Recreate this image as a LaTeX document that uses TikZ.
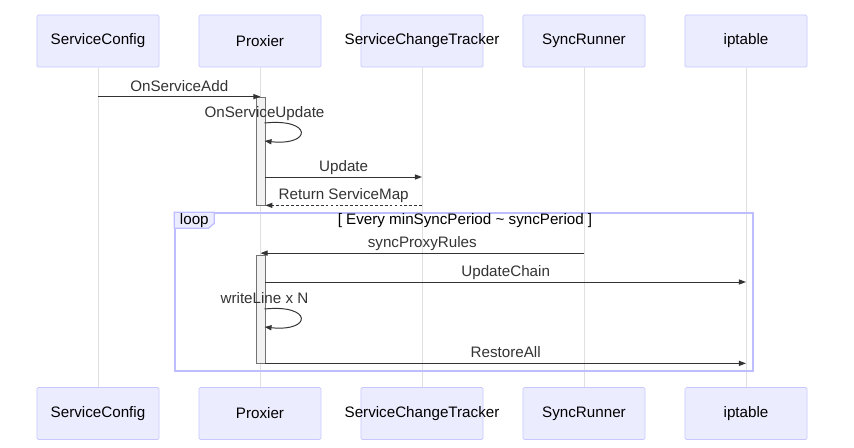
\documentclass[tikz,border=0pt]{standalone}
\usepackage{fontspec}
\setmainfont{Liberation Sans}
\usetikzlibrary{arrows.meta,positioning,calc}
\definecolor{actfill}{HTML}{ECECFF}
\definecolor{actline}{HTML}{C8C8FF}
\definecolor{boxline}{HTML}{BDBDFF}
\definecolor{msgcol}{HTML}{333333}

\begin{document}
\begin{tikzpicture}[x=0.025cm, y=-0.025cm,
	actor/.style={rectangle,rounded corners=1pt,draw=actline,fill=actfill,minimum width=3.05cm,minimum height=1.3cm,inner sep=0pt},
	life/.style={draw=black!12,line width=0.6pt},
	msg/.style={draw=msgcol,line width=0.7pt,-{Triangle[length=5pt,width=3.6pt]}},
	ret/.style={msg,dash pattern=on 2pt off 1.5pt},
	lbl/.style={above,inner sep=3.6pt,text depth=0pt,text=msgcol},
	actv/.style={rectangle,draw=black!55,fill=black!5,line width=0.5pt,minimum width=0.225cm,minimum height=2.7cm,inner sep=0pt},
	frame/.style={rectangle,draw=boxline,line width=0.9pt,minimum width=14.45cm,minimum height=3.95cm},
	font=\fontsize{10.8}{13}\selectfont]

    \useasboundingbox (0,0) rectangle (854,447);

    % participants, top and bottom
    \node (SCtop)  at (98,41)  [actor] {ServiceConfig};
    \node (PXtop)  at (260,41) [actor] {Proxier};
    \node (SCTtop) at (422,41) [actor] {\makebox[0pt]{ServiceChangeTracker}};
    \node (SRtop)  at (584,41) [actor] {SyncRunner};
    \node (IPTtop) at (746,41) [actor] {iptable};

    \node (SCbot)  at (98,413.5)  [actor] {ServiceConfig};
    \node (PXbot)  at (260,413.5) [actor] {Proxier};
    \node (SCTbot) at (422,413.5) [actor] {\makebox[0pt]{ServiceChangeTracker}};
    \node (SRbot)  at (584,413.5) [actor] {SyncRunner};
    \node (IPTbot) at (746,413.5) [actor] {iptable};

    \draw [life] (SCtop) -- (SCbot);
    \draw [life] (PXtop) -- (PXbot);
    \draw [life] (SCTtop) -- (SCTbot);
    \draw [life] (SRtop) -- (SRbot);
    \draw [life] (IPTtop) -- (IPTbot);

    % loop frame
    \node (frame) at (464,292) [frame] {};
    \draw [draw=boxline,fill=actfill,line width=0.9pt] (frame.north west) -- ++(40,0) -- ++(0,11) -- ++(-6,5) -- ++(-34,0) -- cycle;
    \node (looplbl) at ($(frame.north west)+(20,8)$) {loop};
    \node (cond) at (465,221) [text=black] {[ Every minSyncPeriod \textasciitilde\ syncPeriod ]};

    % activations
    \node (act1) at (260.5,151) [actv] {};
    \node (act2) at (260.5,309) [actv] {};

    \coordinate (m3) at (0,177);
    \coordinate (m6) at (0,282);
    \coordinate (u1) at (264.5,123);
    \coordinate (u2) at (264.5,141);
    \coordinate (w1) at (264.5,309);
    \coordinate (w2) at (264.5,327);

    \draw [msg] (SCtop |- act1.north) -- node [lbl] {OnServiceAdd} (act1.north);
    \draw [msg] (u1) .. controls ($(u1)+(48,-5)$) and ($(u2)+(48,5)$) .. (u2);
    \node at (u1) [lbl] {OnServiceUpdate};
    \draw [msg] (act1.east |- m3) -- node [lbl] {Update} (SCTtop |- m3);
    \draw [ret] (SCTtop |- act1.south) -- node [lbl] {Return ServiceMap} (act1.south east);

    \draw [msg] ($(SRtop |- act2.north)+(0,-1.5)$) -- node [lbl] {syncProxyRules} ($(act2.north)+(0,-1.5)$);
    \draw [msg] (act2.east |- m6) -- node [lbl] {UpdateChain} (IPTtop |- m6);
    \draw [msg] (w1) .. controls ($(w1)+(48,-5)$) and ($(w2)+(48,5)$) .. (w2);
    \node at (w1) [lbl] {writeLine x N};
    \draw [msg] (act2.south east) -- node [lbl] {RestoreAll} (IPTtop |- act2.south);

\end{tikzpicture}
\end{document}
